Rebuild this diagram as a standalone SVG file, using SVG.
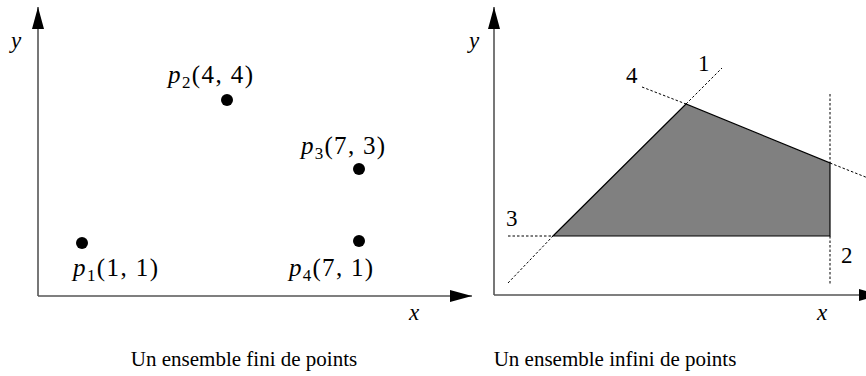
<svg xmlns="http://www.w3.org/2000/svg" width="866" height="376" viewBox="0 0 866 376">
<style>
.axis{stroke:#555;stroke-width:1.6;fill:none}
.dash{stroke:#000;stroke-width:1;stroke-dasharray:2.5 2;fill:none}
.t{font-family:"Liberation Serif","DejaVu Serif",serif;font-size:25px;fill:#000}
.n{font-family:"Liberation Serif","DejaVu Serif",serif;font-size:23px;fill:#000}
.i{font-style:italic}
.s{font-size:17px}
.cap{font-family:"Liberation Serif","DejaVu Serif",serif;font-size:21px;fill:#000}
.pt{fill:#000}
</style>
<defs>
<marker id="ah" viewBox="0 0 22 12" refX="22" refY="6" markerWidth="22" markerHeight="12" markerUnits="userSpaceOnUse" orient="auto">
<path d="M0,0 L22,6 L0,12 Z" fill="#000"/>
</marker>
</defs>
<g id="left-axes">
<line class="axis" x1="38" y1="296" x2="38" y2="7" marker-end="url(#ah)"/>
<line class="axis" x1="38" y1="296" x2="472" y2="296" marker-end="url(#ah)"/>
<text class="n i" x="11" y="48">y</text>
<text class="n i" x="409" y="320">x</text>
</g>
<g id="p1"><circle class="pt" cx="82" cy="243" r="6"/><text class="t" x="73" y="276" textLength="85" lengthAdjust="spacing"><tspan class="i">p</tspan><tspan class="s" dy="5">1</tspan><tspan dy="-5">(1, 1)</tspan></text></g>
<g id="p2"><circle class="pt" cx="227" cy="100" r="6"/><text class="t" x="168" y="83" textLength="85" lengthAdjust="spacing"><tspan class="i">p</tspan><tspan class="s" dy="5">2</tspan><tspan dy="-5">(4, 4)</tspan></text></g>
<g id="p3"><circle class="pt" cx="359" cy="169" r="6"/><text class="t" x="301" y="154" textLength="84" lengthAdjust="spacing"><tspan class="i">p</tspan><tspan class="s" dy="5">3</tspan><tspan dy="-5">(7, 3)</tspan></text></g>
<g id="p4"><circle class="pt" cx="359" cy="241" r="6"/><text class="t" x="289" y="276" textLength="84" lengthAdjust="spacing"><tspan class="i">p</tspan><tspan class="s" dy="5">4</tspan><tspan dy="-5">(7, 1)</tspan></text></g>
<text class="cap" x="244" y="366" text-anchor="middle">Un ensemble fini de points</text>
<g id="right-axes">
<line class="axis" x1="494" y1="295" x2="494" y2="7" marker-end="url(#ah)"/>
<line class="axis" x1="494" y1="295" x2="881" y2="295" marker-end="url(#ah)"/>
<text class="n i" x="469" y="48">y</text>
<text class="n i" x="817" y="320">x</text>
</g>
<g id="region">
<polygon points="553,236 686,104 830,163 830,236" fill="#808080" stroke="#000" stroke-width="1.2"/>
</g>
<g id="lines">
<line class="dash" x1="508" y1="283" x2="553" y2="236"/>
<line class="dash" x1="686" y1="104" x2="722" y2="68"/>
<line class="dash" x1="642" y1="87" x2="686" y2="104"/>
<line class="dash" x1="830" y1="163" x2="868" y2="178"/>
<line class="dash" x1="830" y1="94" x2="830" y2="163"/>
<line class="dash" x1="830" y1="236" x2="830" y2="284"/>
<line class="dash" x1="508" y1="236" x2="553" y2="236"/>
</g>
<g id="labels">
<text class="n" x="698" y="71">1</text>
<text class="n" x="626" y="83">4</text>
<text class="n" x="506" y="226">3</text>
<text class="n" x="841" y="263">2</text>
</g>
<text class="cap" x="615" y="366" text-anchor="middle">Un ensemble infini de points</text>
</svg>
